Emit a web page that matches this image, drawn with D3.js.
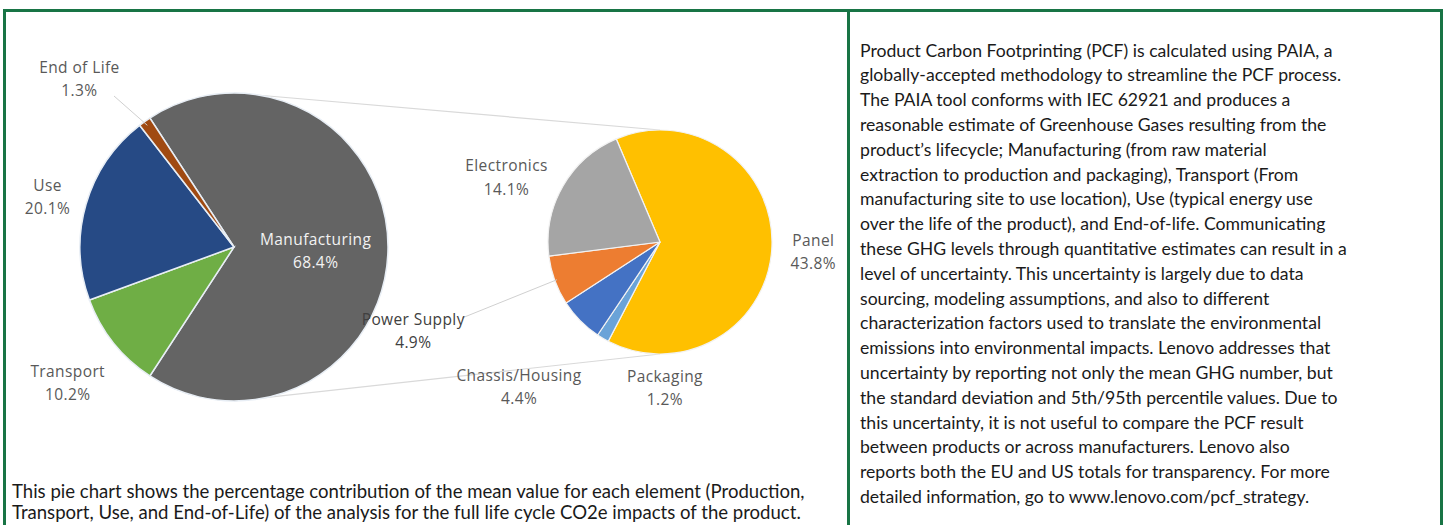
<!DOCTYPE html>
<html>
<head>
<meta charset="utf-8">
<script src="https://cdn.jsdelivr.net/npm/d3@7"></script>
<style>
  body { margin: 0; background: #fff; }
  svg { display: block; }
</style>
</head>
<body>
<script>
// main pie: life-cycle stages (% of total)
var mainCats = ["Manufacturing", "Transport", "Use", "End of Life"];
var mainVals = [68.4, 10.2, 20.1, 1.3];
var mainColors = ["#646464", "#6fae45", "#264a85", "#a04a12"];

// second pie: breakdown of manufacturing (% of total)
var subCats = ["Panel", "Packaging", "Chassis/Housing", "Power Supply", "Electronics"];
var subVals = [43.8, 1.2, 4.4, 4.9, 14.1];
var subColors = ["#ffc000", "#6aa3d8", "#4472c4", "#ed7d31", "#a5a5a5"];

var captionLines = [
  "This pie chart shows the percentage contribution of the mean value for each element (Production,",
  "Transport, Use, and End-of-Life) of the analysis for the full life cycle CO2e impacts of the product."
];

var infoLines = [
  "Product Carbon Footprinting (PCF) is calculated using PAIA, a",
  "globally-accepted methodology to streamline the PCF process.",
  "The PAIA tool conforms with IEC 62921 and produces a",
  "reasonable estimate of Greenhouse Gases resulting from the",
  "product\u2019s lifecycle; Manufacturing (from raw material",
  "extraction to production and packaging), Transport (From",
  "manufacturing site to use location), Use (typical energy use",
  "over the life of the product), and End-of-life. Communicating",
  "these GHG levels through quantitative estimates can result in a",
  "level of uncertainty. This uncertainty is largely due to data",
  "sourcing, modeling assumptions, and also to different",
  "characterization factors used to translate the environmental",
  "emissions into environmental impacts. Lenovo addresses that",
  "uncertainty by reporting not only the mean GHG number, but",
  "the standard deviation and 5th/95th percentile values. Due to",
  "this uncertainty, it is not useful to compare the PCF result",
  "between products or across manufacturers. Lenovo also",
  "reports both the EU and US totals for transparency. For more",
  "detailed information, go to www.lenovo.com/pcf_strategy."
];

var width = 1445;
var height = 525;
var green = "#187445";

var svg = d3.select("body")
            .append("svg")
            .attr("width", width)
            .attr("height", height);

// frame
svg.append("line").attr("x1", 3).attr("x2", 1443).attr("y1", 10.5).attr("y2", 10.5)
   .attr("stroke", green).attr("stroke-width", 3);
[4.5, 848.5, 1441.5].forEach(function(x) {
    svg.append("line").attr("x1", x).attr("x2", x).attr("y1", 9).attr("y2", height)
       .attr("stroke", green).attr("stroke-width", 3);
});

var toRad = Math.PI / 180;

// big pie
var c1 = {x: 234, y: 247, r: 154};
var mainTotal = d3.sum(mainVals);
var mainStart = (90 - 180 * mainVals[0] / mainTotal) * toRad;
var pie1 = d3.pie().sort(null)
             .startAngle(mainStart)
             .endAngle(mainStart + 2 * Math.PI);
var arc1 = d3.arc().innerRadius(0).outerRadius(c1.r);
var mainArcs = pie1(mainVals);

// small pie
var c2 = {x: 660, y: 242, r: 112};
var subStart = -23 * toRad;
var pie2 = d3.pie().sort(null)
             .startAngle(subStart)
             .endAngle(subStart + 2 * Math.PI);
var arc2 = d3.arc().innerRadius(0).outerRadius(c2.r);
var subArcs = pie2(subVals);

// connector lines
var conn = svg.append("g").attr("stroke", "#d9d9d9").attr("stroke-width", 1.2);
conn.append("line")
    .attr("x1", c1.x).attr("y1", c1.y - c1.r)
    .attr("x2", c2.x).attr("y2", c2.y - c2.r);
conn.append("line")
    .attr("x1", c1.x).attr("y1", c1.y + c1.r)
    .attr("x2", c2.x).attr("y2", c2.y + c2.r);

var g1 = svg.append("g").attr("transform", "translate(" + c1.x + "," + c1.y + ")");
g1.selectAll("path")
  .data(mainArcs)
  .enter().append("path")
  .attr("d", arc1)
  .attr("fill", function(d, i) { return mainColors[i]; })
  .attr("stroke", "#e8eef5")
  .attr("stroke-width", 1.5);

var g2 = svg.append("g").attr("transform", "translate(" + c2.x + "," + c2.y + ")");
g2.selectAll("path")
  .data(subArcs)
  .enter().append("path")
  .attr("d", arc2)
  .attr("fill", function(d, i) { return subColors[i]; })
  .attr("stroke", "#f2f2f2")
  .attr("stroke-width", 1.2);

// label placement: radius factor, optional angle (deg) override
var mainLabelPos = [{k: 0.53}, {k: 1.38}, {k: 1.26}, {k: 1.5, a: 318}];
var subLabelPos = [{k: 1.37}, {k: 1.27, a: 178}, {k: 1.78, a: 225}, {k: 2.33, a: 251}, {k: 1.5, a: 294}];

function polar(c, d, p) {
    var a = p.a !== undefined ? p.a * toRad : (d.startAngle + d.endAngle) / 2;
    return [c.x + Math.sin(a) * c.r * p.k, c.y - Math.cos(a) * c.r * p.k];
}

function pct(v) { return v.toFixed(1) + "%"; }

function addLabel(xy, name, val, color) {
    var t = svg.append("text")
               .attr("x", xy[0]).attr("y", xy[1])
               .attr("text-anchor", "middle")
               .style("font-family", "'Open Sans', sans-serif")
               .style("font-size", "15.5px")
               .style("letter-spacing", "0.4px")
               .attr("fill", color);
    t.append("tspan").attr("x", xy[0]).attr("dy", "-0.15em").text(name);
    t.append("tspan").attr("x", xy[0]).attr("dy", "1.5em").text(val);
}

// leader lines
var leaders = svg.append("g").attr("stroke", "#d0d0d0").attr("stroke-width", 1).attr("fill", "none");
var eol = mainArcs[3];
var eolA = (eol.startAngle + eol.endAngle) / 2;
leaders.append("polyline")
       .attr("points", [[114, 96], [c1.x + Math.sin(eolA) * c1.r * 0.97, c1.y - Math.cos(eolA) * c1.r * 0.97]].join(" "));
var ps = subArcs[3];
var psA = (ps.startAngle + ps.endAngle) / 2;
leaders.append("polyline")
       .attr("points", [[462, 318], [c2.x + Math.sin(psA) * c2.r * 0.98, c2.y - Math.cos(psA) * c2.r * 0.98]].join(" "));

mainArcs.forEach(function(d, i) {
    addLabel(polar(c1, d, mainLabelPos[i]), mainCats[i], pct(mainVals[i]),
             i === 0 ? "#f2f2f2" : "#595959");
});
subArcs.forEach(function(d, i) {
    addLabel(polar(c2, d, subLabelPos[i]), subCats[i], pct(subVals[i]),
             i === 3 ? "#404040" : "#595959");
});

// fit a block of lines so that the first line has the given width
function textBlock(lines, x, y0, step, firstWidth) {
    var g = svg.append("g")
               .style("font-family", "Lato, 'Open Sans', sans-serif")
               .attr("fill", "#1a1a1a");
    var texts = g.selectAll("text")
                 .data(lines)
                 .enter().append("text")
                 .attr("x", x)
                 .attr("y", function(d, i) { return y0 + i * step; })
                 .attr("dominant-baseline", "central")
                 .style("font-size", "18px")
                 .text(function(d) { return d; });
    var w = texts.node().getComputedTextLength();
    texts.style("font-size", (18 * firstWidth / w) + "px");
}

textBlock(captionLines, 12, 491, 20.5, 793);
textBlock(infoLines, 860, 50, 24.8, 473);
</script>
</body>
</html>
